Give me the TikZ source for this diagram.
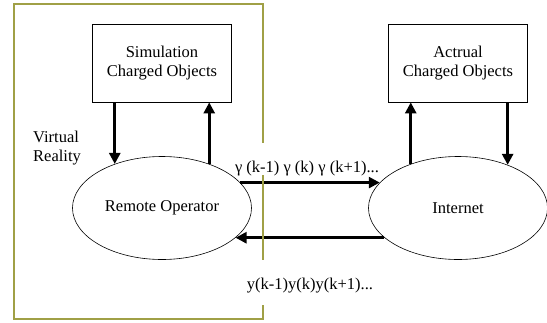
\documentclass[tikz,border=0pt]{standalone}
\usepackage{fontspec}
\setmainfont{Liberation Serif}
\usepackage{tikz}
\usetikzlibrary{arrows.meta}
\usetikzlibrary{positioning,shapes}
\usepackage{xcolor}
\definecolor{vrolive}{RGB}{160,160,70}
\tikzset{
    objbox/.style={
        draw,
        rectangle,
        fill=white,
        minimum width=139pt,
        minimum height=78pt,
        align=center,
        line width=0.8pt
    },
    blob/.style={
        draw,
        ellipse,
        fill=white,
        minimum width=179pt,
        minimum height=103pt,
        inner sep=0pt,
        line width=0.6pt
    },
    flow/.style={
        draw,
        -{Triangle[length=11pt, width=11pt]},
        line width=2.6pt
    },
    seqlabel/.style={
        fill=white,
        inner xsep=2pt,
        inner ysep=0pt
    }
}

\begin{document}
\begin{tikzpicture}[x=1pt, y=-1pt,
    every node/.style={font=\fontsize{16.5}{19.5}\selectfont}]
    \useasboundingbox (0,0) rectangle (547,322);
    % Objects
    \node[objbox] (sim) at (162,63) {Simulation\\Charged Objects};
    \node[objbox] (act) at (458,63) {Actrual\\Charged Objects};
    \node[blob] (ro) at (162,208) {Remote Operator};
    \node[blob] (inet) at (458,208) {Internet};
    \node[align=left] (vr) at (57,148) {Virtual\\Reality};

    % Edges
    \draw[flow] (sim.south -| ro.137) -- (ro.137);
    \draw[flow] (ro.43) -- (ro.43 |- sim.south);
    \draw[flow] (inet.137) -- (inet.137 |- act.south);
    \draw[flow] (act.south -| inet.41) -- (inet.41);
    \draw[flow] (ro.18) -- (inet.162);
    \draw[flow] (inet.202) -- (ro.-22);

    % Virtual reality frame
    \draw[vrolive, line width=1.4pt] (14,4) rectangle (263,319);

    % Sequences
    \node[seqlabel, text height=29pt, text depth=3pt] (gam) at (307,159)
        {γ (k-1) γ (k) γ (k+1)...};
    \node[seqlabel, text height=29pt, text depth=16pt] (yseq) at (310,282.5)
        {y(k-1)y(k)y(k+1)...};
\end{tikzpicture}
\end{document}
